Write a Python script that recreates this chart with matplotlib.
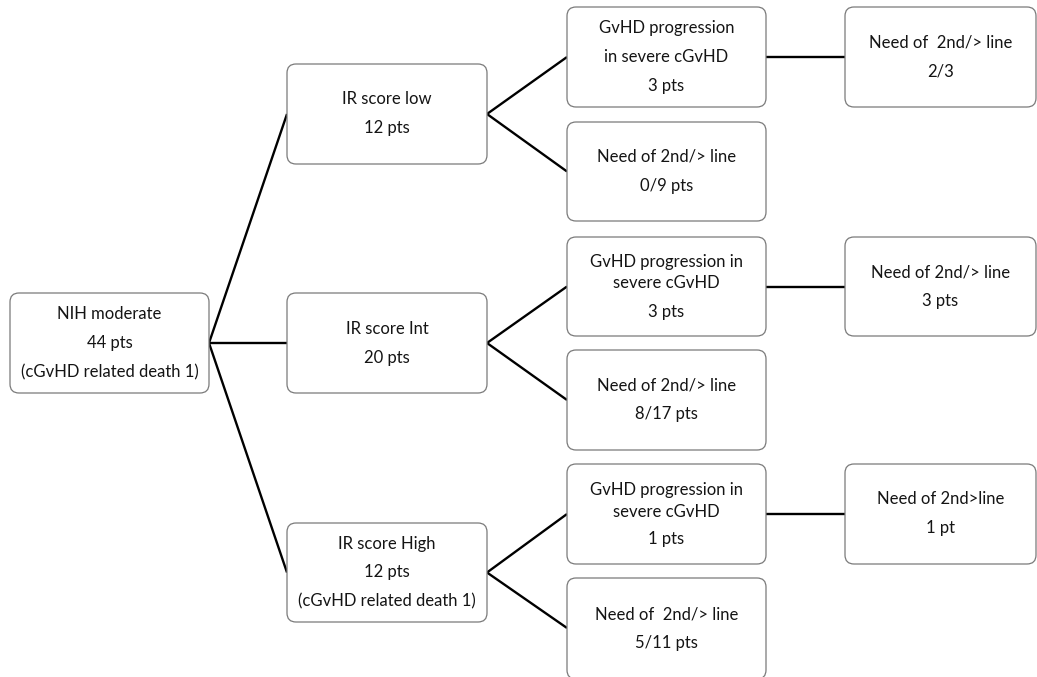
import matplotlib.pyplot as plt
from matplotlib.patches import FancyBboxPatch

plt.rcParams['font.family'] = ['Lato', 'DejaVu Sans']

# box texts, one list of lines per box
root_label = ["NIH moderate", "44 pts", "(cGvHD related death 1)"]
ir_labels = [
    ["IR score low", "12 pts"],
    ["IR score Int", "20 pts"],
    ["IR score High", "12 pts", "(cGvHD related death 1)"],
]
progression_labels = [
    ["GvHD progression", "in severe cGvHD", "3 pts"],
    ["GvHD progression in", "severe cGvHD", "3 pts"],
    ["GvHD progression in", "severe cGvHD", "1 pts"],
]
need_labels = [
    ["Need of 2nd/> line", "0/9 pts"],
    ["Need of 2nd/> line", "8/17 pts"],
    ["Need of  2nd/> line", "5/11 pts"],
]
second_line_labels = [
    ["Need of  2nd/> line", "2/3"],
    ["Need of 2nd/> line", "3 pts"],
    ["Need of 2nd>line", "1 pt"],
]

# layout (pixel units, y goes down)
W, H = 1037, 677
col_x = [(10, 209), (287, 487), (567, 766), (845, 1036)]
root_box = (293, 393)
ir_boxes = [(64, 164), (293, 393), (523, 622)]
prog_boxes = [(7, 107), (237, 336), (464, 564)]
need_boxes = [(122, 221), (350, 450), (578, 679)]
LINE_GAP = 29
# wrapped lines sit closer together than separate lines
prog_offsets = [[-29, 0, 29], [-24, -3, 26], [-24, -2, 25]]

fig = plt.figure(figsize=(W / 100, H / 100), dpi=100)
ax = fig.add_axes([0, 0, 1, 1])
ax.set_xlim(0, W)
ax.set_ylim(H, 0)
ax.axis('off')


def draw_box(x0, x1, y0, y1, lines, offsets=None):
    patch = FancyBboxPatch((x0, y0), x1 - x0, y1 - y0,
                           boxstyle="round,pad=0,rounding_size=9",
                           facecolor='white', edgecolor='#7a7a7a',
                           linewidth=0.9, zorder=2)
    ax.add_patch(patch)
    cx = (x0 + x1) / 2
    cy = (y0 + y1) / 2
    if y1 > H:
        cy = (y0 + 677) / 2 + 1
    n = len(lines)
    if offsets is None:
        offsets = [(i - (n - 1) / 2) * LINE_GAP for i in range(n)]
    for line, off in zip(lines, offsets):
        ax.text(cx, cy + off, line, ha='center', va='center',
                fontsize=12, color='#141414', zorder=3)


def connect(p, q):
    ax.plot([p[0], q[0]], [p[1], q[1]], color='black', lw=1.7,
            solid_capstyle='butt', zorder=1)


# root
draw_box(*col_x[0], *root_box, root_label)
root_mid = (root_box[0] + root_box[1]) / 2

for i in range(3):
    iy0, iy1 = ir_boxes[i]
    ir_mid = (iy0 + iy1) / 2
    draw_box(*col_x[1], iy0, iy1, ir_labels[i])
    connect((col_x[0][1], root_mid), (col_x[1][0], ir_mid))

    py0, py1 = prog_boxes[i]
    p_mid = (py0 + py1) / 2
    draw_box(*col_x[2], py0, py1, progression_labels[i], prog_offsets[i])
    connect((col_x[1][1], ir_mid), (col_x[2][0], p_mid))

    ny0, ny1 = need_boxes[i]
    n_mid = (ny0 + min(ny1, 678)) / 2
    draw_box(*col_x[2], ny0, ny1, need_labels[i])
    connect((col_x[1][1], ir_mid), (col_x[2][0], n_mid))

    draw_box(*col_x[3], py0, py1, second_line_labels[i])
    connect((col_x[2][1], p_mid), (col_x[3][0], p_mid))

fig.savefig('out.png', dpi=100)
